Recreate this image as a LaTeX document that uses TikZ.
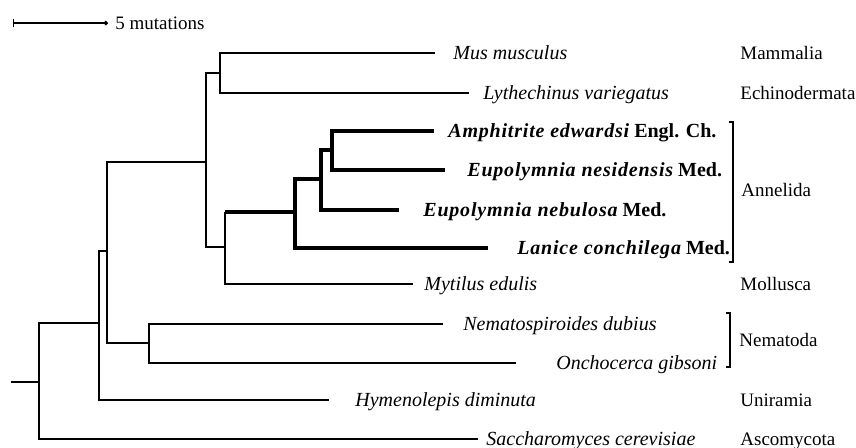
\documentclass[tikz,border=0pt]{standalone}
\usepackage{fontspec}
\setmainfont{Liberation Serif}
\usetikzlibrary{arrows.meta}
\tikzset{
  branch/.style={line width=0.6pt},
  anne/.style={line width=1.8pt},
  taxon/.style={anchor=base west, yshift=-3.2pt, inner sep=0pt, font=\itshape},
  phylum/.style={anchor=base west, yshift=-3.2pt, inner sep=0pt},
  worm/.style={anchor=base west, yshift=-3.2pt, inner sep=0pt, font=\bfseries},
}
\newcommand{\polych}[2]{{\itshape\addfontfeatures{LetterSpace=4}#1}~#2}
\begin{document}
\begin{tikzpicture}[x=0.5pt,y=-0.5pt,font=\fontsize{9.5}{11}\selectfont]
    \useasboundingbox (0,0) rectangle (856,447);
    % scale bar
    \coordinate (s0) at (13,23);
    \coordinate (s1) at (108,23);
    \draw[branch,{Bar[width=4pt]}-{Circle[length=2.2pt]}] (s0) -- (s1);
    \node[phylum] (scale) at (115,23) {5 mutations};
    % inner nodes
    \coordinate (stub) at (11,382);
    \coordinate (root) at (39,382);
    \coordinate (n1) at (99,323);
    \coordinate (n2) at (107,251);
    \coordinate (nema) at (149,343);
    \coordinate (n3) at (206,162);
    \coordinate (deut) at (220,73);
    \coordinate (n4) at (225,247);
    \coordinate (n5) at (295,212);
    \coordinate (n6) at (321,179);
    \coordinate (n7) at (332,150);
    % tips
    \coordinate (mus) at (435,53);
    \coordinate (lyt) at (469,93);
    \coordinate (amp) at (434,131);
    \coordinate (nes) at (445,170);
    \coordinate (neb) at (399,210);
    \coordinate (lan) at (488,248);
    \coordinate (myt) at (413,284);
    \coordinate (nsp) at (443,324);
    \coordinate (onc) at (516,363);
    \coordinate (hym) at (329,400);
    \coordinate (sac) at (478,439);
    % thin branches
    \draw[branch] (stub) -- (root)
        (root) |- (n1) (root) |- (sac)
        (n1) |- (n2) (n1) |- (hym)
        (n2) |- (n3) (n2) |- (nema)
        (nema) |- (nsp) (nema) |- (onc)
        (n3) |- (deut) (n3) |- (n4)
        (deut) |- (mus) (deut) |- (lyt)
        (n4) |- (myt) (n4) -- (n4 |- n5);
    % terebellids
    \draw[anne] (n4 |- n5) -- (n5)
        (n5) |- (n6) (n5) |- (lan)
        (n6) |- (n7) (n6) |- (neb)
        (n7) |- (amp) (n7) |- (nes);
    % species
    \node[taxon] (mus-l) at (453,53) {Mus musculus};
    \node[taxon] (lyt-l) at (483,93) {Lythechinus variegatus};
    \node[worm] (amp-l) at (448,131) {\polych{Amphitrite edwardsi}{Engl. Ch.}};
    \node[worm] (nes-l) at (467,170) {\polych{Eupolymnia nesidensis}{Med.}};
    \node[worm] (neb-l) at (423,210) {\polych{Eupolymnia nebulosa}{Med.}};
    \node[worm] (lan-l) at (517,248) {\polych{Lanice conchilega}{Med.}};
    \node[taxon] (myt-l) at (424,284) {Mytilus edulis};
    \node[taxon] (nsp-l) at (463,324) {Nematospiroides dubius};
    \node[taxon] (onc-l) at (556,363) {Onchocerca gibsoni};
    \node[taxon] (hym-l) at (355,400) {Hymenolepis diminuta};
    \node[taxon] (sac-l) at (486,439) {Saccharomyces cerevisiae};
    % phyla
    \coordinate (ann-t) at (733,122);
    \coordinate (ann-b) at (733,262);
    \coordinate (nem-t) at (730,313);
    \coordinate (nem-b) at (730,367);
    \draw[branch] (ann-t) ++(-4,0) -- (ann-t) -- (ann-b) -- ++(-4,0);
    \draw[branch] (nem-t) ++(-4,0) -- (nem-t) -- (nem-b) -- ++(-4,0);
    \node[phylum] (mam) at (740,53) {Mammalia};
    \node[phylum] (ech) at (740,93) {Echinodermata};
    \node[phylum] (ann) at (741,190) {Annelida};
    \node[phylum] (mol) at (740,284) {Mollusca};
    \node[phylum] (nem) at (739,340) {Nematoda};
    \node[phylum] (uni) at (740,400) {Uniramia};
    \node[phylum] (asc) at (740,439) {Ascomycota};
\end{tikzpicture}
\end{document}
